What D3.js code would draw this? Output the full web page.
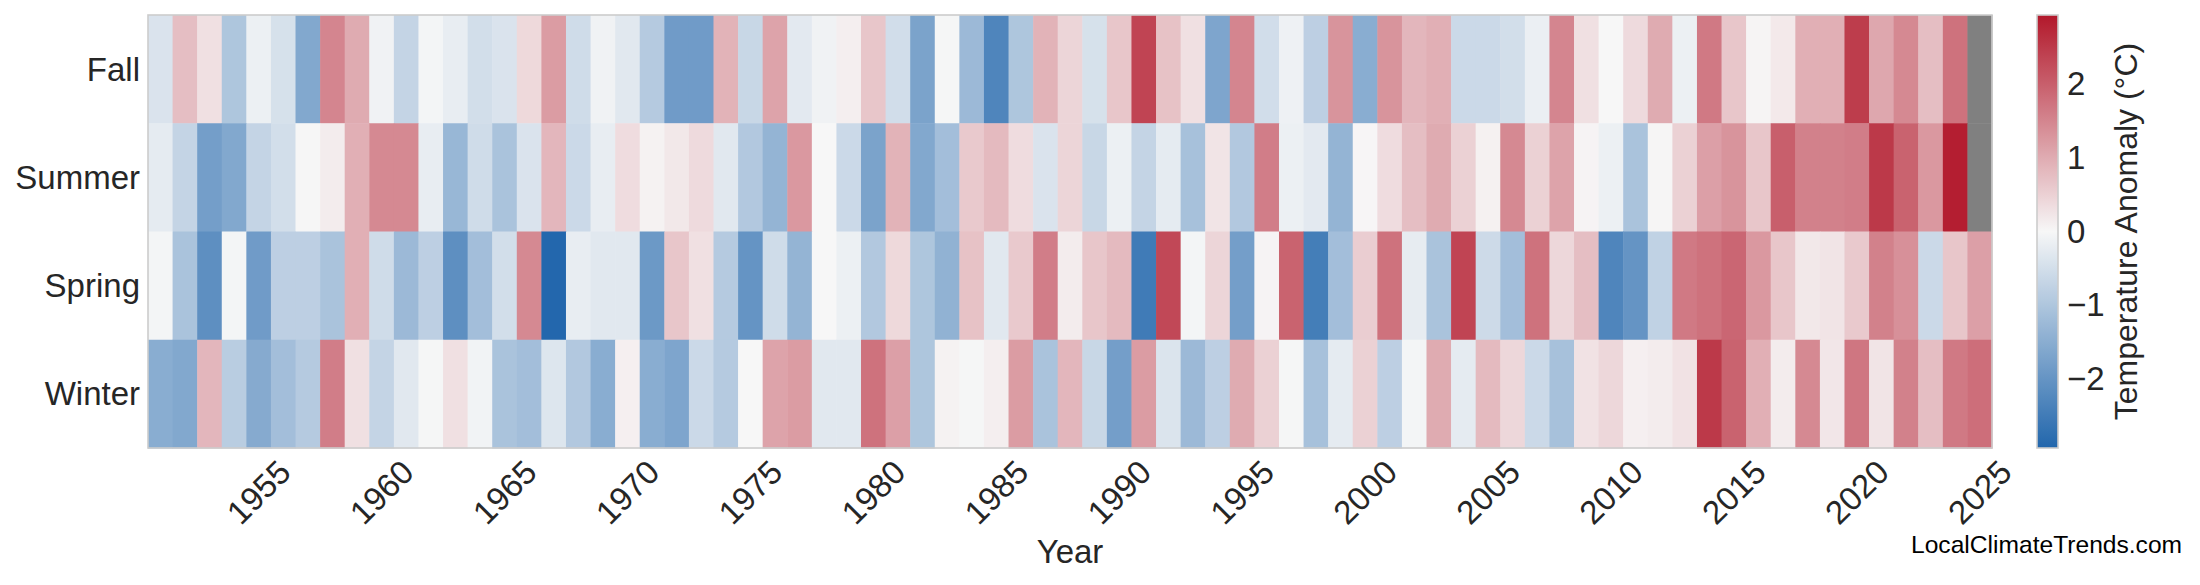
<!DOCTYPE html>
<html>
<head>
<meta charset="utf-8">
<script src="https://cdn.jsdelivr.net/npm/d3@7"></script>
<style>
  html, body { margin: 0; padding: 0; background: #ffffff; }
  svg { display: block; }
  text { font-family: "Liberation Sans", Arial, sans-serif; }
</style>
</head>
<body>
<svg id="chart" width="2200" height="585"></svg>
<script>
// ---------------- data ----------------
const years = d3.range(1951, 2026);            // 1951 .. 2025 (75 columns)
const seasons = ["Fall", "Summer", "Spring", "Winter"];
const tickYears = [1955, 1960, 1965, 1970, 1975, 1980, 1985, 1990, 1995, 2000, 2005, 2010, 2015, 2020, 2025];
const colorbarTicks = [-2, -1, 0, 1, 2];

const fall = [
  -0.4, 0.75, 0.3, -1.0, -0.15, -0.45, -1.6, 1.5, 1.0, -0.1,
  -0.7, -0.05, -0.2, -0.5, -0.4, 0.4, 1.2, -0.55, -0.1, -0.3,
  -0.9, -1.85, -1.85, 0.9, -0.65, 1.1, -0.28, -0.1, 0.12, 0.65,
  -0.52, -1.7, -0.03, -1.25, -2.3, -1.0, 0.9, 0.45, -0.45, 0.65,
  2.35, 0.7, 0.3, -1.65, 1.5, -0.52, -0.12, -0.8, 1.3, -1.5,
  1.3, 0.85, 0.95, -0.6, -0.6, -0.5, -0.17, 1.5, 0.3, 0.0,
  0.38, 1.0, -0.15, 1.65, 0.65, 0.04, 0.18, 0.95, 0.95, 2.45,
  1.05, 1.45, 0.75, 1.75, null
];
const summer = [
  -0.25, -0.7, -1.8, -1.6, -0.7, -0.5, -0.02, 0.15, 0.95, 1.45,
  1.45, -0.2, -1.3, -0.55, -1.05, -0.4, 0.85, -0.6, -0.2, 0.35,
  0.07, 0.2, 0.38, -0.3, -0.95, -1.35, 1.25, 0.0, -0.6, -1.7,
  0.9, -1.6, -1.15, 0.6, 0.8, 0.35, -0.4, 0.45, -0.65, -0.15,
  -0.7, -0.25, -1.1, 0.25, -0.95, 1.6, -0.15, -0.28, -1.35, 0.02,
  0.35, 0.75, 1.0, 0.5, 0.08, 1.45, 0.5, 1.1, 0.05, -0.15,
  -1.05, 0.03, 0.5, 1.15, 1.3, 0.65, 2.0, 1.55, 1.55, 1.6,
  2.5, 1.95, 1.25, 2.85, null
];
const spring = [
  -0.05, -1.05, -2.1, -0.05, -1.85, -0.8, -0.8, -1.05, 0.95, -0.55,
  -1.25, -0.8, -2.1, -1.15, -0.5, 1.45, -2.9, -0.2, -0.3, -0.3,
  -1.9, 0.65, 0.3, -0.9, -2.0, -0.55, -1.35, 0.0, -0.15, -0.95,
  0.4, -1.0, -1.4, 0.7, -0.3, 0.6, 1.6, 0.15, 0.65, 0.8,
  -2.5, 2.3, -0.05, 0.45, -1.8, 0.05, 1.95, -2.45, -1.15, 0.55,
  1.75, -0.22, -1.05, 2.35, -0.58, -1.15, 1.75, 0.42, 0.75, -2.3,
  -2.0, -0.75, 1.65, 1.75, 1.9, 1.25, 0.65, 0.2, 0.25, 0.6,
  1.55, 1.35, -0.6, 0.65, 1.15
];
const winter = [
  -1.5, -1.6, 0.85, -0.85, -1.55, -1.15, -0.9, 1.6, 0.3, -0.7,
  -0.3, -0.03, 0.3, -0.08, -1.05, -1.15, -0.35, -0.95, -1.5, 0.1,
  -1.5, -1.65, -0.6, -0.9, 0.0, 1.1, 1.2, -0.3, -0.3, 1.75,
  1.15, -1.0, 0.07, -0.03, 0.12, 1.2, -1.05, 0.85, -0.65, -1.8,
  1.2, -0.38, -1.25, -0.8, 1.0, 0.5, -0.03, -1.1, -0.25, 0.5,
  -0.8, -0.05, 1.0, -0.25, 0.8, 0.42, -0.6, -1.1, 0.27, 0.42,
  0.1, 0.15, 0.27, 2.5, 1.95, 0.95, 0.15, 1.45, 0.22, 1.7,
  0.25, 1.55, 0.75, 1.65, 1.8
];
const seriesBySeason = { Fall: fall, Summer: summer, Spring: spring, Winter: winter };
const vmax = 2.93;

// ---------------- layout ----------------
const plot = { left: 148, right: 1992, top: 15, bottom: 448 };
const cbar = { left: 2037, right: 2058 };
const textColor = "#262626";
const edgeColor = "#cccccc";
const fontSize = "33px";

const svg = d3.select("#chart");

const x = d3.scaleBand().domain(years).range([plot.left, plot.right]).padding(0);
const y = d3.scaleBand().domain(seasons).range([plot.top, plot.bottom]).padding(0);
const color = d3.scaleLinear()
  .domain([-vmax, 0, vmax])
  .range(["#2166ac", "#f7f7f7", "#b2182b"])
  .interpolate(d3.interpolateRgb)
  .clamp(true);

const cells = [];
seasons.forEach(s => {
  seriesBySeason[s].forEach((v, i) => cells.push({ season: s, year: years[i], value: v }));
});

svg.append("g")
  .selectAll("rect")
  .data(cells)
  .join("rect")
  .attr("x", d => x(d.year))
  .attr("y", d => y(d.season))
  .attr("width", x.bandwidth() + 0.5)
  .attr("height", y.bandwidth() + 0.5)
  .attr("fill", d => d.value === null ? "#808080" : color(d.value));

// frame
svg.append("rect")
  .attr("x", plot.left).attr("y", plot.top)
  .attr("width", plot.right - plot.left).attr("height", plot.bottom - plot.top)
  .attr("fill", "none").attr("stroke", edgeColor).attr("stroke-width", 1.6);

// y axis (season labels)
const yAxis = svg.append("g")
  .attr("transform", `translate(${plot.left},0)`)
  .call(d3.axisLeft(y).tickSize(0).tickPadding(8));
yAxis.select(".domain").remove();
yAxis.selectAll("text")
  .attr("fill", textColor)
  .style("font-size", fontSize)
  .attr("dy", "0.35em");

// x axis (years)
const xAxis = svg.append("g")
  .attr("transform", `translate(0,${plot.bottom})`)
  .call(d3.axisBottom(x).tickValues(tickYears).tickSize(0));
xAxis.select(".domain").remove();
xAxis.selectAll("text")
  .attr("fill", textColor)
  .style("font-size", fontSize)
  .attr("y", 0)
  .attr("dy", "0.35em")
  .attr("text-anchor", "middle")
  .attr("transform", "translate(0,44) rotate(-45)");

// x label
svg.append("text")
  .attr("x", (plot.left + plot.right) / 2)
  .attr("y", 563)
  .attr("text-anchor", "middle")
  .attr("fill", textColor)
  .style("font-size", fontSize)
  .text("Year");

// colorbar
const cScale = d3.scaleLinear().domain([-vmax, vmax]).range([plot.bottom, plot.top]);
const defs = svg.append("defs");
const grad = defs.append("linearGradient")
  .attr("id", "cbgrad")
  .attr("x1", 0).attr("y1", 1).attr("x2", 0).attr("y2", 0);
d3.range(0, 1.0001, 0.02).forEach(t => {
  grad.append("stop")
    .attr("offset", t)
    .attr("stop-color", color(-vmax + t * 2 * vmax));
});
svg.append("rect")
  .attr("x", cbar.left).attr("y", plot.top)
  .attr("width", cbar.right - cbar.left).attr("height", plot.bottom - plot.top)
  .attr("fill", "url(#cbgrad)")
  .attr("stroke", edgeColor).attr("stroke-width", 1.6);

const cAxis = svg.append("g")
  .attr("transform", `translate(${cbar.right},0)`)
  .call(d3.axisRight(cScale).tickValues(colorbarTicks).tickSize(0).tickPadding(9).tickFormat(d3.format("d")));
cAxis.select(".domain").remove();
cAxis.selectAll("text")
  .attr("fill", textColor)
  .style("font-size", fontSize);

svg.append("text")
  .attr("transform", `translate(2137,${(plot.top + plot.bottom) / 2}) rotate(-90)`)
  .attr("text-anchor", "middle")
  .attr("fill", textColor)
  .style("font-size", "32px")
  .text("Temperature Anomaly (°C)");

// watermark
svg.append("text")
  .attr("x", 1911)
  .attr("y", 553)
  .attr("fill", "#000000")
  .style("font-size", "24.6px")
  .text("LocalClimateTrends.com");
</script>
</body>
</html>
